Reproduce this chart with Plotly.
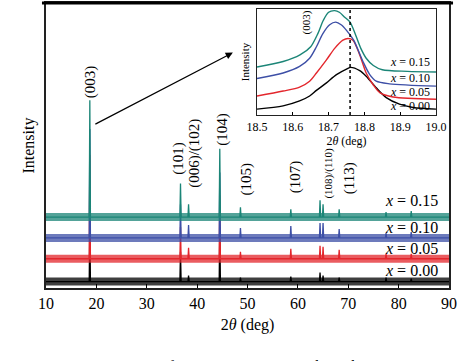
import plotly.graph_objects as go

# ---------------- data ----------------
series_labels = ["x = 0.00", "x = 0.05", "x = 0.10", "x = 0.15"]
series_colors = ["#000000", "#e3262c", "#3d4fa6", "#1b8577"]
baselines = [6.5, 29.5, 50.5, 71.5]           # vertical offsets of each pattern (a.u.)

peak_pos = [18.7, 36.7, 38.3, 44.5, 48.6, 58.6, 64.4, 65.0, 68.2, 77.5, 82.5]
h_000 = [60, 30, 6, 55, 4, 5, 9, 6, 4, 4, 3]
h_005 = [105, 32, 11, 64, 7, 10, 13, 12, 9, 5, 5]
h_010 = [110, 34, 13, 66, 10, 12, 15, 15, 9, 5, 6]
h_015 = [118, 34, 13, 69, 10, 8, 17, 13, 8, 5, 6]
heights = [h_000, h_005, h_010, h_015]

hkl_labels = ["(003)", "(101)", "(006)/(102)", "(104)", "(105)", "(107)", "(108)/(110)", "(113)"]
hkl_x = [18.73, 36.4, 39.6, 45.1, 49.7, 59.6, 66.0, 70.3]
hkl_y = [208.5, 131.5, 135.5, 160.5, 110.5, 112.5, 115.5, 110.5]

# inset: (003) reflection, 18.5-19.0 deg
ins_x_000 = [18.5, 18.573, 18.619, 18.647, 18.666, 18.694, 18.722, 18.75, 18.762, 18.787, 18.805, 18.833, 18.861, 18.898, 18.936, 19.0]
ins_y_000 = [18, 28, 43, 58, 75, 98, 123, 140, 145, 135, 118, 83, 53, 33, 23, 18]
ins_x_005 = [18.5, 18.573, 18.619, 18.647, 18.666, 18.694, 18.717, 18.74, 18.754, 18.768, 18.787, 18.805, 18.824, 18.843, 18.88, 19.0]
ins_y_005 = [58, 73, 85, 103, 128, 168, 203, 228, 233, 228, 183, 128, 93, 68, 55, 48]
ins_x_010 = [18.5, 18.573, 18.619, 18.647, 18.666, 18.684, 18.703, 18.72, 18.735, 18.75, 18.77, 18.796, 18.815, 18.833, 18.87, 19.0]
ins_y_010 = [111, 128, 148, 173, 208, 248, 275, 283, 275, 258, 228, 163, 123, 103, 95, 88]
ins_x_015 = [18.5, 18.573, 18.62, 18.65, 18.67, 18.685, 18.70, 18.717, 18.73, 18.745, 18.76, 18.79, 18.805, 18.825, 18.85, 18.92, 19.0]
ins_y_015 = [146, 163, 183, 208, 248, 288, 313, 318, 313, 298, 283, 203, 173, 151, 138, 133, 131]
ins_xs = [ins_x_000, ins_x_005, ins_x_010, ins_x_015]
ins_ys = [ins_y_000, ins_y_005, ins_y_010, ins_y_015]
ins_label_y = [27, 71, 113, 160]
ref_peak = 18.76

x_ticks = [10, 20, 30, 40, 50, 60, 70, 80, 90]
ins_ticks = [18.5, 18.6, 18.7, 18.8, 18.9, 19.0]

# ---------------- figure ----------------
FONT = "Liberation Serif"
W_HALF = 0.12
fig = go.Figure()

for lab, col, base, hs in zip(series_labels, series_colors, baselines, heights):
    # noise band
    fig.add_trace(go.Scatter(x=[10, 90], y=[base, base], mode="lines",
                             line=dict(color=col, width=8), opacity=0.75,
                             showlegend=False, hoverinfo="skip"))
    xs, ys = [10], [base]
    for p, h in sorted(zip(peak_pos, hs)):
        xs += [p - W_HALF, p, p + W_HALF]
        ys += [base, base + h, base]
    xs.append(90)
    ys.append(base)
    fig.add_trace(go.Scatter(x=xs, y=ys, mode="lines", line=dict(color=col, width=1.3),
                             name=lab, showlegend=False))

for xi, yi, col in zip(ins_xs, ins_ys, series_colors):
    fig.add_trace(go.Scatter(x=xi, y=yi, mode="lines", xaxis="x2", yaxis="y2",
                             line=dict(color=col, width=1.4, shape="spline", smoothing=0.8),
                             showlegend=False))

annotations = []
label_y_main = [17.5, 39.5, 61.5, 88.5]
for lab, ly in zip(series_labels, label_y_main):
    annotations.append(dict(x=88.2, y=ly, xref="x", yref="y", xanchor="right", yanchor="middle",
                            text="<i>x</i>" + lab[1:], showarrow=False,
                            font=dict(family=FONT, size=16, color="black")))
for t, xx, yy in zip(hkl_labels, hkl_x, hkl_y):
    annotations.append(dict(x=xx, y=yy, xref="x", yref="y", text=t, textangle=-90,
                            showarrow=False,
                            font=dict(family=FONT, size=11 if t == "(108)/(110)" else 15, color="black")))
# arrow from the (003) peak to the inset
annotations.append(dict(x=47.1, y=237.5, ax=19.5, ay=164.5, xref="x", yref="y", axref="x", ayref="y",
                        text="", showarrow=True, arrowhead=2, arrowsize=1.2, arrowwidth=1.2,
                        arrowcolor="black"))
for lab, ly in zip(series_labels, ins_label_y):
    annotations.append(dict(x=18.99, y=ly, xref="x2", yref="y2", xanchor="right", yanchor="middle",
                            text="<i>x</i>" + lab[1:], showarrow=False,
                            font=dict(family=FONT, size=12, color="black")))
annotations.append(dict(x=18.638, y=283, xref="x2", yref="y2", text="(003)", textangle=-90,
                        showarrow=False, font=dict(family=FONT, size=11, color="black")))
annotations.append(dict(x=-0.114, y=-0.240, xref="paper", yref="paper", xanchor="left", yanchor="top",
                        text="F<span style='font-size:12px'>IGURE</span> 2: XRD patterns of LiNi<sub>1−2<i>x</i></sub>Co<sub><i>x</i></sub>Mn<sub><i>x</i></sub>O<sub>2</sub>. Show the inset",
                        showarrow=False, font=dict(family=FONT, size=16, color="black")))

fig.update_layout(
    width=474, height=361,
    margin=dict(l=46, r=25, t=1, b=72.5),
    paper_bgcolor="white", plot_bgcolor="white",
    font=dict(family=FONT, size=16, color="black"),
    annotations=annotations,
    xaxis=dict(range=[10, 90], tickvals=x_ticks, ticks="inside", ticklen=4, tickcolor="black",
               showline=True, linecolor="#222", linewidth=1.5, mirror=True, showgrid=False,
               zeroline=False, tickfont=dict(size=16),
               title=dict(text="2<i>θ</i> (deg)", font=dict(size=16), standoff=8)),
    yaxis=dict(range=[0, 287.5], showticklabels=False, ticks="", showline=True, linecolor="#222",
               linewidth=1.5, mirror=True, showgrid=False, zeroline=False,
               title=dict(text="Intensity", font=dict(size=16), standoff=6)),
    xaxis2=dict(domain=[0.5236, 0.9677], anchor="y2", range=[18.5, 19.0], tickvals=ins_ticks,
                ticktext=["18.5", "18.6", "18.7", "18.8", "18.9", "19.0"],
                ticks="inside", ticklen=3, tickcolor="black", showline=True, linecolor="#222",
                linewidth=1.2, mirror=True, showgrid=False, zeroline=False,
                tickfont=dict(size=12),
                title=dict(text="2<i>θ</i> (deg)", font=dict(size=12), standoff=4)),
    yaxis2=dict(domain=[0.607, 0.979], anchor="x2", range=[0, 323], showticklabels=False, ticks="",
                showline=True, linecolor="#222", linewidth=1.2, mirror=True, showgrid=False,
                zeroline=False, title=dict(text="Intensity", font=dict(size=11), standoff=4)),
    shapes=[dict(type="line", xref="x2", yref="y2 domain", x0=ref_peak, x1=ref_peak, y0=0, y1=1,
                 line=dict(color="black", width=1.5, dash="dot")),
            dict(type="line", xref="paper", yref="paper", x0=-0.01, x1=1.01, y0=1.0, y1=1.0,
                 line=dict(color="black", width=3))],
)

fig.write_html("out.html", config={"displayModeBar": False},
               post_script="document.body.style.margin='0';document.body.style.overflow='hidden';")
